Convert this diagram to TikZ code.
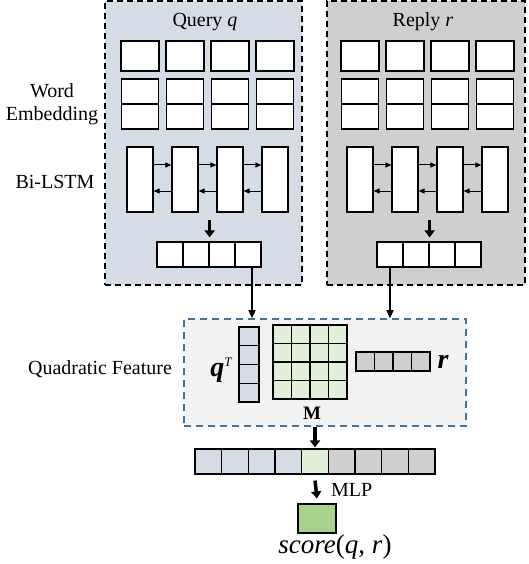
\documentclass[tikz,border=0pt]{standalone}
\usepackage{fontspec}
\setmainfont{Liberation Serif}
\usetikzlibrary{arrows.meta,calc}

\definecolor{qfill}{HTML}{D6DCE5}
\definecolor{rfill}{HTML}{D0CECE}
\definecolor{mfill}{HTML}{E2F0D9}
\definecolor{sfill}{HTML}{A9D18E}
\definecolor{featfill}{HTML}{F2F2F2}
\definecolor{featline}{HTML}{41719C}

\tikzset{
  panel/.style={draw=black,line width=2pt,dash pattern=on 6pt off 4pt,inner sep=0pt},
  featbox/.style={draw=featline,fill=featfill,line width=1.6pt,dash pattern=on 7pt off 5pt,inner sep=0pt},
  cell/.style={draw=black,fill=white,line width=1.2pt,inner sep=0pt},
  lbl/.style={font=\fontsize{20}{23}\selectfont,inner sep=0pt},
  thin arr/.style={line width=1pt,-{Triangle[width=5pt,length=6pt]}},
  down arr/.style={line width=1.4pt,-{Triangle[width=7pt,length=8pt]}},
  fat arr/.style={line width=3.5pt,-{Triangle[width=10pt,length=7pt]}}
}

\begin{document}
\begin{tikzpicture}[x=1pt,y=-1pt]
\useasboundingbox (0,0) rectangle (528,564);

% the two encoders
\node[panel,fill=qfill,minimum width=197pt,minimum height=284pt] (qpanel) at (203.5,143) {};
\node[panel,fill=rfill,minimum width=198pt,minimum height=284pt] (rpanel) at (425.5,143) {};

\node[lbl] (qtitle) at (205,22) {Query \textit{q}};
\node[lbl] (rtitle) at (423,22) {Reply \textit{r}};

\node[lbl,align=center] (wordlbl) at (52,104) {Word\\Embedding};
\node[lbl] (lstmlbl) at (55,182) {Bi-LSTM};

\foreach \p/\s in {q/0,r/220}{
  % word embedding rows
  \foreach \i in {1,...,4}{
    \node[cell,minimum width=38pt,minimum height=30pt] (\p e\i) at ({95+45*\i+\s},56) {};
    \node[cell,minimum width=37pt,minimum height=25pt] (\p a\i) at ({95+45*\i+\s},91.5) {};
    \node[cell,minimum width=37pt,minimum height=25pt] (\p b\i) at ({95+45*\i+\s},116.5) {};
    \node[cell,minimum width=26pt,minimum height=65pt] (\p l\i) at ({95+45*\i+\s},179.5) {};
  }
  % bi-lstm links
  \foreach \i/\j in {1/2,2/3,3/4}{
    \draw[thin arr] ([yshift=14.5pt]\p l\i.east) -- ([yshift=14.5pt]\p l\j.west);
    \draw[thin arr] ([yshift=-11.5pt]\p l\j.west) -- ([yshift=-11.5pt]\p l\i.east);
  }
  % sentence vector
  \foreach \i in {1,...,4}{
    \node[cell,minimum width=26pt,minimum height=25pt] (\p v\i) at ({144+26*\i+\s},254.5) {};
  }
  \draw[fat arr] ([yshift=21pt]\p v2.north east) -- ([yshift=4pt]\p v2.north east);
}

% quadratic feature
\node[featbox,minimum width=282pt,minimum height=107pt] (quad) at (325,372.5) {};
\node[lbl] (quadlbl) at (100,369) {Quadratic Feature};

\draw[down arr] ([xshift=4pt]qv4.south) -- ([xshift=4pt]qv4.south |- quad.north);
\draw[down arr] (rv1.south) -- (rv1.south |- quad.north);

\foreach \i in {1,...,4}{
  \node[cell,fill=qfill,minimum width=20pt,minimum height=18.75pt] (qt\i) at (249,{317.6+18.75*\i}) {};
  \node[cell,fill=rfill,minimum width=18.5pt,minimum height=19pt] (rr\i) at ({346.75+18.5*\i},361.5) {};
  \foreach \j in {1,...,4}{
    \node[cell,fill=mfill,minimum width=18.5pt,minimum height=18.5pt] (m\i\j) at ({263.75+18.5*\j},{315.75+18.5*\i}) {};
  }
}
\draw[line width=1.6pt] (m11.north west) rectangle (m44.south east);

\node[font=\fontsize{28}{30}\selectfont\bfseries\itshape,inner sep=0pt] (qtlbl) at (221,370) {q\raisebox{10pt}{\fontsize{13}{14}\selectfont\mdseries T}};
\node[font=\fontsize{19}{22}\selectfont\bfseries,inner sep=0pt] (mlbl) at (312,413) {M};
\node[font=\fontsize{28}{30}\selectfont\bfseries\itshape,inner sep=0pt] (rlbl) at (443,362) {r};

% concatenated feature
\foreach \i/\c in {1/qfill,2/qfill,3/qfill,4/qfill,5/mfill,6/rfill,7/rfill,8/rfill,9/rfill}{
  \node[cell,fill=\c,minimum width=26.67pt,minimum height=25pt] (cat\i) at ({181.67+26.67*\i},461.5) {};
}
\draw[fat arr] (cat5.north |- quad.south) -- ([yshift=1pt]cat5.north);

% output
\node[cell,fill=sfill,minimum width=38pt,minimum height=29pt] (score) at (317,518.5) {};
\draw[fat arr] ([yshift=-6pt]cat5.south) -- ([yshift=5pt]score.north);
\node[lbl,anchor=west] (mlplbl) at (331,490) {MLP};
\node[font=\fontsize{27}{30}\selectfont,inner sep=0pt] (scorelbl) at (335,547) {\textit{score}(\textit{q}, \textit{r})};
\end{tikzpicture}
\end{document}
